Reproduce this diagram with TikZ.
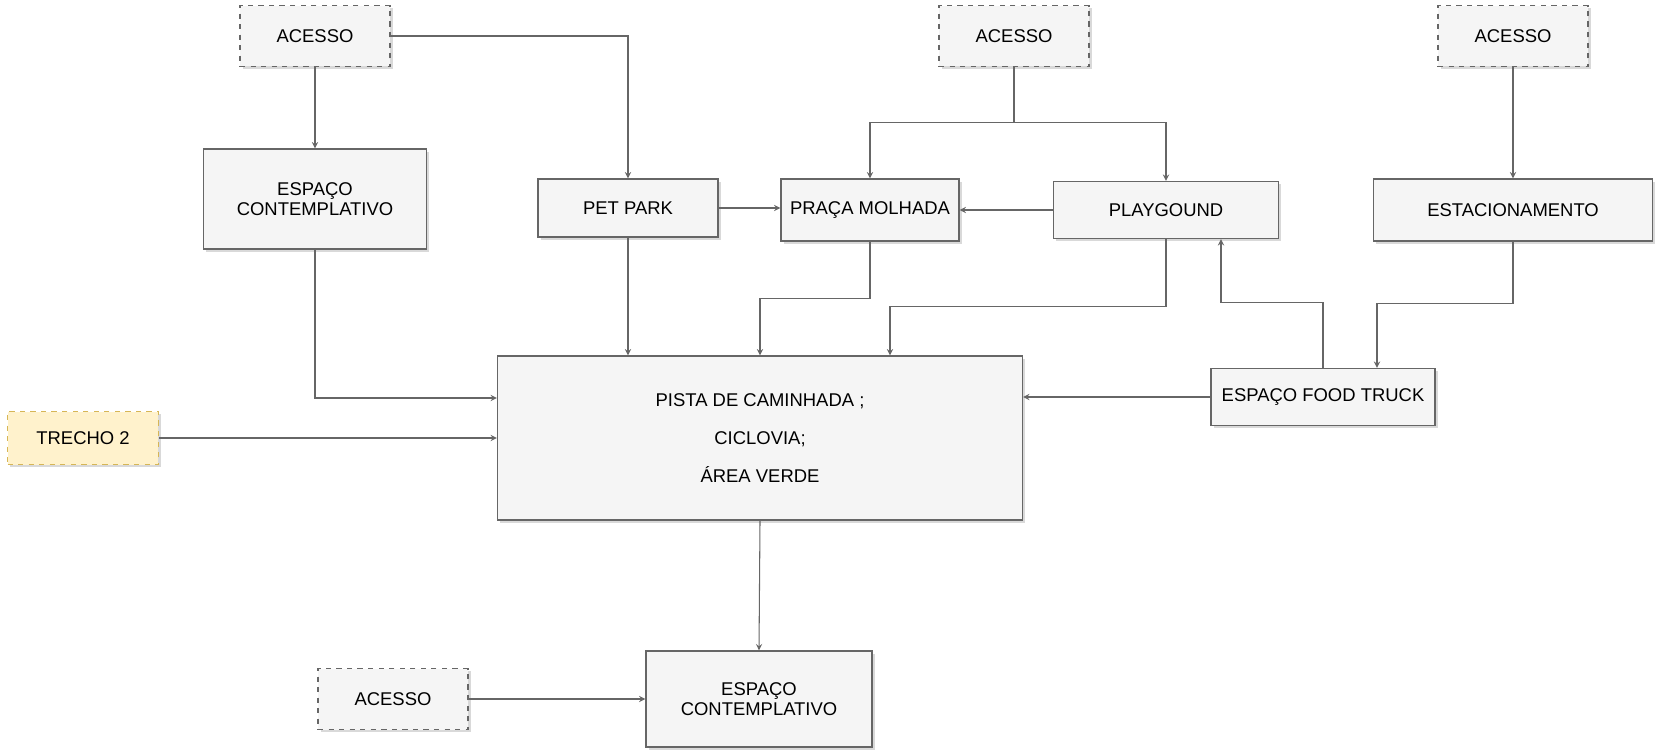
\documentclass[tikz,border=0pt]{standalone}
\usepackage{fontspec}
\setmainfont{Liberation Sans}
\usepackage{tikz}
\usetikzlibrary{arrows}
\usetikzlibrary{positioning, calc, shadows}
\usepackage{xcolor}
\definecolor{boxfill}{HTML}{F5F5F5}
\definecolor{boxline}{HTML}{666666}
\definecolor{notefill}{HTML}{FFF2CC}
\definecolor{noteline}{HTML}{D6B656}

\tikzset{
  area/.style={draw=boxline, fill=boxfill, thick, align=center,
    font=\fontsize{10.5}{11.5}\selectfont,
    drop shadow={shadow xshift=1.5pt, shadow yshift=-1.5pt, opacity=0.3}},
  acesso/.style={area, dashed, minimum width=3.0cm, minimum height=1.22cm},
  trecho/.style={area, dashed, draw=noteline, fill=notefill},
  link/.style={->, draw=boxline, semithick}
}

\begin{document}
\begin{tikzpicture}[>=stealth, x=0.02cm, y=-0.02cm]
      \useasboundingbox (0, 0) rectangle (1655, 750);

      \node[acesso] (acessoA) at (315, 36) {ACESSO};
      \node[acesso] (acessoB) at (1014, 36) {ACESSO};
      \node[acesso] (acessoC) at (1513, 36) {ACESSO};
      \node[acesso] (acessoD) at (393, 699) {ACESSO};

      \node[area, minimum width=4.46cm, minimum height=2.0cm] (contA) at (315, 199) {ESPAÇO\\CONTEMPLATIVO};
      \node[area, minimum width=3.6cm, minimum height=1.16cm] (petpark) at (628, 208) {PET PARK};
      \node[area, minimum width=3.56cm, minimum height=1.24cm] (praca) at (870, 210) {PRAÇA MOLHADA};
      \node[area, minimum width=4.5cm, minimum height=1.14cm] (playground) at (1166, 210) {PLAYGOUND};
      \node[area, minimum width=5.58cm, minimum height=1.24cm] (estac) at (1513, 210) {ESTACIONAMENTO};
      \node[area, minimum width=10.5cm, minimum height=3.28cm] (pista) at (760, 438) {PISTA DE CAMINHADA ;\\[10pt] CICLOVIA;\\[10pt] ÁREA VERDE};
      \node[area, minimum width=4.48cm, minimum height=1.14cm] (foodtruck) at (1323, 397) {ESPAÇO FOOD TRUCK};
      \node[trecho, minimum width=3.02cm, minimum height=1.06cm] (trecho) at (83, 438) {TRECHO 2};
      \node[area, minimum width=4.52cm, minimum height=1.92cm] (contB) at (759, 699) {ESPAÇO\\CONTEMPLATIVO};

      \draw[link] (acessoA) -- (contA);
      \draw[link] (acessoA.east) -| (petpark.north);
      \draw[link] (contA.south) |- ($(pista.west)+(0, -40)$);
      \draw[link] (trecho.east) -- (trecho.east -| pista.west);
      \draw[link] (petpark.south) -- (petpark.south |- pista.north);
      \draw[link] (petpark.east) -- (petpark.east -| praca.west);
      \draw[link] (praca.south) -- ++(0, 57) -| (pista.north);

      \draw[semithick, draw=boxline] (acessoB.south) -- ++(0, 55) coordinate (split);
      \draw[link] (split) -| (praca.north);
      \draw[link] (split) -| (playground.north);
      \draw[link] (playground.west) -- (playground.west -| praca.east);
      \draw[link] (playground.south) -- ++(0, 67) -| ($(pista.north)+(130, 0)$);

      \draw[link] (acessoC) -- (estac);
      \draw[link] (estac.south) -- ++(0, 62) -| ($(foodtruck.north)+(54, 0)$);
      \draw[link] (foodtruck.north) -- ++(0, -65) -| ($(playground.south)+(55, 0)$);
      \draw[link] (foodtruck.west) -- (foodtruck.west -| pista.east);

      \draw[link] (pista.south) -- (contB.north);
      \draw[link] (acessoD) -- (contB);
    \end{tikzpicture}
\end{document}
